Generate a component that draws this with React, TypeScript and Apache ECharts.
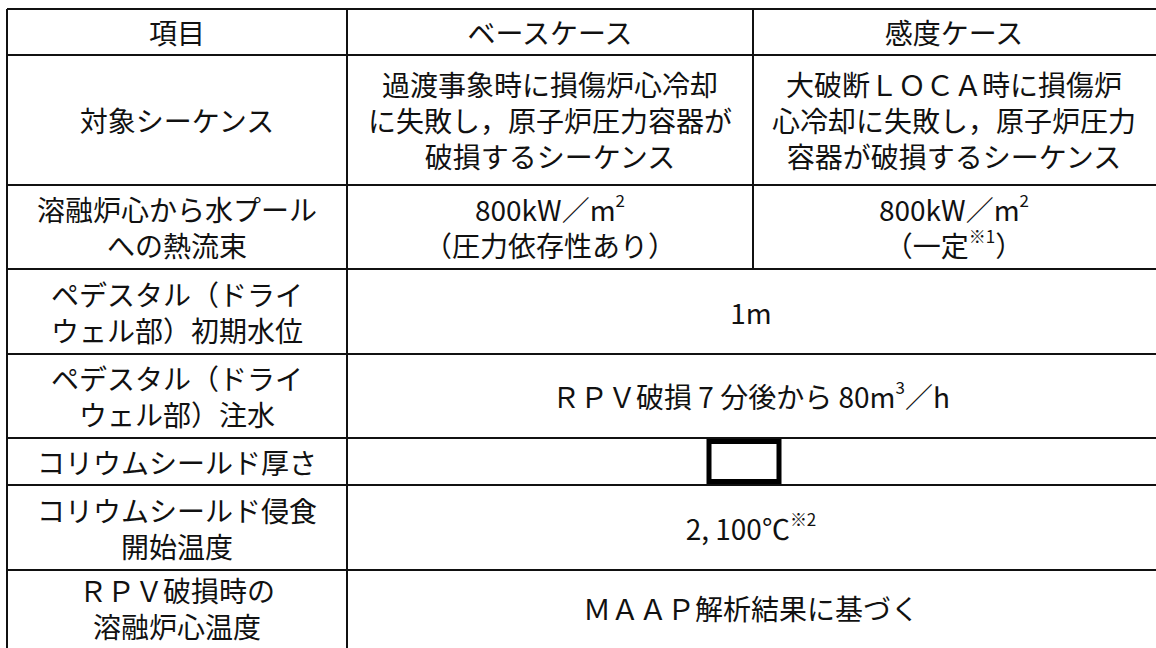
import React, { useEffect, useRef } from "react";
import * as echarts from "echarts";

// ---- table content ----
const headers = ["項目", "ベースケース", "感度ケース"];
const items = [
  "対象シーケンス",
  "溶融炉心から水プール\nへの熱流束",
  "ペデスタル（ドライ\nウェル部）初期水位",
  "ペデスタル（ドライ\nウェル部）注水",
  "コリウムシールド厚さ",
  "コリウムシールド侵食\n開始温度",
  "ＲＰＶ破損時の\n溶融炉心温度",
];
const baseCase = [
  "過渡事象時に損傷炉心冷却\nに失敗し，原子炉圧力容器が\n破損するシーケンス",
  "800kW／m{sup|2}\n（圧力依存性あり）",
  "1m",
  "ＲＰＶ破損 7 分後から 80m{sup|3}／h",
  "",
  "2, 100℃{sup|※2}",
  "ＭＡＡＰ解析結果に基づく",
];
// null = merged with the base-case cell
const sensitivityCase: (string | null)[] = [
  "大破断ＬＯＣＡ時に損傷炉\n心冷却に失敗し，原子炉圧力\n容器が破損するシーケンス",
  "800kW／m{sup|2}\n（一定{sup|※1}）",
  null,
  null,
  null,
  null,
  null,
];
const redactedRows = [4];

// ---- layout ----
const colEdges = [7, 347, 753, 1160];
const rowEdges = [9, 55, 185, 269, 354, 438, 485, 570, 655];
const FONT = "'Noto Sans CJK JP', 'Noto Sans CJK SC', sans-serif";
const FS = 28;
const LH = 36;
const INK = "#111";

function textEl(text: string, cx: number, cy: number) {
  return {
    type: "text",
    silent: true,
    style: {
      text,
      x: cx,
      y: cy,
      align: "center",
      verticalAlign: "middle",
      fontFamily: FONT,
      fontSize: FS,
      lineHeight: LH,
      fill: INK,
      rich: {
        sup: {
          fontFamily: FONT,
          fontSize: 17,
          lineHeight: 18,
          verticalAlign: "top",
          fill: INK,
        },
      },
    },
  };
}

function buildElements() {
  const els: any[] = [];
  const x0 = colEdges[0];
  const xEnd = colEdges[3];
  rowEdges.forEach((y) => {
    els.push({
      type: "line",
      silent: true,
      shape: { x1: x0, y1: y, x2: xEnd, y2: y },
      style: { stroke: INK, lineWidth: 2 },
    });
  });
  const yTop = rowEdges[0];
  const yBot = rowEdges[rowEdges.length - 1];
  [colEdges[0], colEdges[1], colEdges[3]].forEach((x) => {
    els.push({
      type: "line",
      silent: true,
      shape: { x1: x, y1: yTop, x2: x, y2: yBot },
      style: { stroke: INK, lineWidth: 2 },
    });
  });
  for (let r = 0; r <= items.length; r++) {
    const merged = r > 0 && sensitivityCase[r - 1] === null;
    if (!merged) {
      els.push({
        type: "line",
        silent: true,
        shape: { x1: colEdges[2], y1: rowEdges[r], x2: colEdges[2], y2: rowEdges[r + 1] },
        style: { stroke: INK, lineWidth: 2 },
      });
    }
  }
  const cx = (a: number, b: number) => (a + b) / 2;
  const c1 = cx(colEdges[0], colEdges[1]);
  const c2 = cx(colEdges[1], colEdges[2]);
  const c3 = cx(colEdges[2], 1155);
  const cMerged = cx(colEdges[1], 1155);
  const hy = cx(rowEdges[0], rowEdges[1]);
  els.push(textEl(headers[0], c1, hy));
  els.push(textEl(headers[1], c2, hy));
  els.push(textEl(headers[2], c3, hy));
  items.forEach((label, i) => {
    const yTopR = rowEdges[i + 1];
    const yBotR = rowEdges[i + 2];
    // last row is clipped by the picture's bottom edge: lift its text slightly
    const cy = cx(yTopR, yBotR) - (i === items.length - 1 ? 5 : 0);
    els.push(textEl(label, c1, cy));
    const s = sensitivityCase[i];
    if (s === null) {
      if (redactedRows.indexOf(i) >= 0) {
        const bw = 70;
        els.push({
          type: "rect",
          silent: true,
          shape: { x: 744 - bw / 2, y: yTopR + 3.5, width: bw, height: yBotR - yTopR - 7 },
          style: { fill: "#fff", stroke: "#000", lineWidth: 5 },
        });
      } else if (baseCase[i]) {
        els.push(textEl(baseCase[i], cMerged, cy));
      }
    } else {
      els.push(textEl(baseCase[i], c2, cy));
      els.push(textEl(s, c3, cy));
    }
  });
  return els;
}

export default function App() {
  const ref = useRef<HTMLDivElement>(null);
  useEffect(() => {
    if (!ref.current) return;
    const chart = echarts.init(ref.current, undefined, { renderer: "svg" });
    chart.setOption({
      animation: false,
      backgroundColor: "#ffffff",
      graphic: { elements: buildElements() },
    });
    return () => chart.dispose();
  }, []);
  return (
    <div
      ref={ref}
      style={{ position: "fixed", left: 0, top: 0, width: 1156, height: 648, background: "#fff" }}
    />
  );
}
